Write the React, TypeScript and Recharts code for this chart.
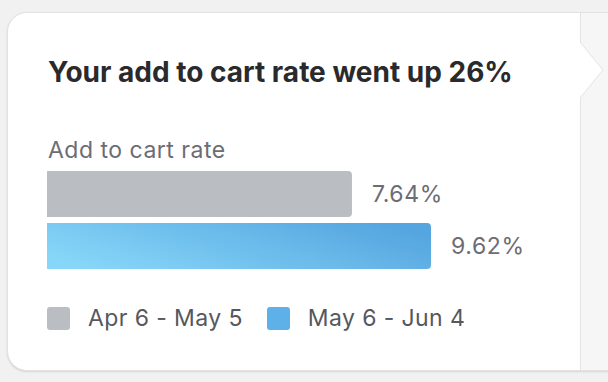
import React from "react";
import { BarChart, Bar, XAxis, YAxis, LabelList, Legend } from "recharts";

const categories = ["Add to cart rate"];
const previousPeriod = [7.64];
const currentPeriod = [9.62];
const seriesNames = ["Apr 6 - May 5", "May 6 - Jun 4"];
const legendColors = ["#babdc1", "#5eb1e8"];

const data = categories.map((c, i) => ({
  name: c,
  prev: previousPeriod[i],
  curr: currentPeriod[i],
}));

const FONT = "Inter, 'Noto Sans', sans-serif";

const renderLegend = () => (
  <div style={{ display: "flex", alignItems: "center", height: 24, fontFamily: FONT }}>
    {seriesNames.map((n, i) => (
      <div key={n} style={{ display: "flex", alignItems: "center", marginRight: 24 }}>
        <div style={{ width: 23, height: 23, borderRadius: 3, background: legendColors[i], marginRight: 18 }} />
        <span style={{ fontSize: 23, letterSpacing: 0.4, lineHeight: "24px", color: "#55585e", whiteSpace: "nowrap" }}>{n}</span>
      </div>
    ))}
  </div>
);

const fmt = (v: number) => v.toFixed(2) + "%";

export default function App() {
  return (
    <div style={{ position: "absolute", left: 0, top: 0, width: 608, height: 382, background: "#f1f1f1", overflow: "hidden", fontFamily: FONT }}>
      <div style={{ position: "absolute", left: 7, top: 12, width: 640, height: 357, background: "#fff", borderTopLeftRadius: 20, borderBottomLeftRadius: 20, border: "1px solid #e2e2e2", boxShadow: "0 1px 2px rgba(0,0,0,0.12)" }} />
      <div style={{ position: "absolute", left: 580, top: 13, width: 28, height: 357, background: "#f6f6f6", borderLeft: "1px solid #e4e4e4" }} />
      <svg style={{ position: "absolute", left: 0, top: 0 }} width={608} height={382}>
        <polygon points="580,42 603,70 580,98" fill="#ffffff" />
        <polyline points="580,42 603,70 580,98" fill="none" stroke="#e4e4e4" strokeWidth={1} />
      </svg>
      <div style={{ position: "absolute", left: 48, top: 58, fontSize: 28, lineHeight: "28px", fontWeight: 700, color: "#2a2a2c", whiteSpace: "nowrap" }}>
        Your add to cart rate went up 26%
      </div>
      <div style={{ position: "absolute", left: 48, top: 139, fontSize: 23, lineHeight: "23px", letterSpacing: 0.5, color: "#6c6c74", whiteSpace: "nowrap" }}>
        {categories[0]}
      </div>
      <div style={{ position: "absolute", left: 0, top: 0 }}>
        <BarChart
          width={608}
          height={382}
          data={data}
          layout="vertical"
          margin={{ top: 170, right: 82, bottom: 113, left: 47 }}
          barCategoryGap={0}
          barGap={6}
        >
          <defs>
            <linearGradient id="blueGrad" x1="0" y1="0.7" x2="1" y2="0.3">
              <stop offset="0%" stopColor="#86d6f9" />
              <stop offset="100%" stopColor="#55a5e0" />
            </linearGradient>
          </defs>
          <XAxis type="number" domain={[0, 12]} hide />
          <YAxis type="category" dataKey="name" hide />
          <Legend
            verticalAlign="bottom"
            align="left"
            content={renderLegend}
            wrapperStyle={{ left: 47, top: 306, bottom: "auto", height: 0, overflow: "visible" }}
          />
          <Bar dataKey="prev" name={seriesNames[0]} fill="#babdc1" barSize={46} radius={[0, 4, 4, 0]} isAnimationActive={false}>
            <LabelList dataKey="prev" position="right" offset={20} formatter={fmt} fill="#6c6c74" fontSize={23} letterSpacing={0.6} fontFamily={FONT} />
          </Bar>
          <Bar dataKey="curr" name={seriesNames[1]} fill="url(#blueGrad)" barSize={46} radius={[0, 4, 4, 0]} isAnimationActive={false}>
            <LabelList dataKey="curr" position="right" offset={20} formatter={fmt} fill="#6c6c74" fontSize={23} letterSpacing={0.6} fontFamily={FONT} />
          </Bar>
        </BarChart>
      </div>
    </div>
  );
}
